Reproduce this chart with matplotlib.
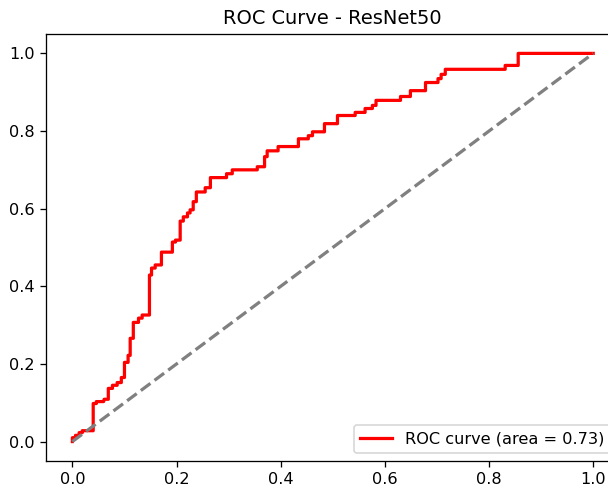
import matplotlib
matplotlib.use("Agg")
import matplotlib.pyplot as plt

# ROC curve corner points
fpr = [0.0, 0.0, 0.006, 0.006, 0.013, 0.013, 0.019, 0.019, 0.040, 0.040,
       0.046, 0.046, 0.060, 0.061, 0.069, 0.069, 0.077, 0.077, 0.086, 0.086,
       0.094, 0.094, 0.100, 0.100, 0.107, 0.107, 0.111, 0.111, 0.117, 0.117,
       0.127, 0.127, 0.134, 0.134, 0.148, 0.148, 0.152, 0.152, 0.159, 0.159,
       0.171, 0.171, 0.192, 0.192, 0.198, 0.198, 0.207, 0.207, 0.213, 0.213,
       0.221, 0.221, 0.226, 0.226, 0.232, 0.232, 0.238, 0.238, 0.255, 0.255,
       0.265, 0.265, 0.296, 0.296, 0.307, 0.307, 0.355, 0.355, 0.369, 0.369,
       0.374, 0.374, 0.395, 0.395, 0.434, 0.434, 0.453, 0.453, 0.461, 0.461,
       0.484, 0.484, 0.509, 0.509, 0.543, 0.543, 0.562, 0.562, 0.576, 0.576,
       0.583, 0.583, 0.630, 0.630, 0.649, 0.649, 0.678, 0.678, 0.702, 0.702,
       0.708, 0.708, 0.716, 0.716, 0.831, 0.831, 0.856, 0.856, 1.0]
tpr = [0.0, 0.010, 0.010, 0.016, 0.016, 0.023, 0.023, 0.028, 0.028, 0.098,
       0.098, 0.103, 0.103, 0.109, 0.109, 0.137, 0.137, 0.145, 0.145, 0.152,
       0.152, 0.165, 0.165, 0.204, 0.204, 0.222, 0.222, 0.266, 0.266, 0.307,
       0.307, 0.318, 0.318, 0.326, 0.326, 0.429, 0.429, 0.447, 0.447, 0.455,
       0.455, 0.488, 0.488, 0.514, 0.514, 0.519, 0.519, 0.568, 0.568, 0.579,
       0.579, 0.589, 0.589, 0.597, 0.597, 0.618, 0.618, 0.643, 0.643, 0.654,
       0.654, 0.680, 0.680, 0.690, 0.690, 0.700, 0.700, 0.708, 0.708, 0.734,
       0.734, 0.749, 0.749, 0.760, 0.760, 0.780, 0.780, 0.788, 0.788, 0.798,
       0.798, 0.819, 0.819, 0.840, 0.840, 0.848, 0.848, 0.858, 0.858, 0.866,
       0.866, 0.879, 0.879, 0.889, 0.889, 0.904, 0.904, 0.925, 0.925, 0.935,
       0.935, 0.946, 0.946, 0.959, 0.959, 0.969, 0.969, 1.0, 1.0]
roc_auc = 0.73
model_name = "ResNet50"

# reference looks rendered at ~116 dpi, so scale everything that way
dpi = 116
fig = plt.figure(figsize=(608 / dpi, 489 / dpi), dpi=dpi)
# the reference is cropped on the right, so the axes run past the figure edge
ax = fig.add_axes([0.0762, 0.0573, 0.9423, 0.8732])

ax.plot(fpr, tpr, color='red', lw=2, label=f'ROC curve (area = {roc_auc:.2f})')
ax.plot([0, 1], [0, 1], color='gray', lw=2, linestyle='--')

ax.set_title(f"ROC Curve - {model_name}")
ax.legend(loc="lower right")

fig.savefig("out.png", dpi=dpi)
